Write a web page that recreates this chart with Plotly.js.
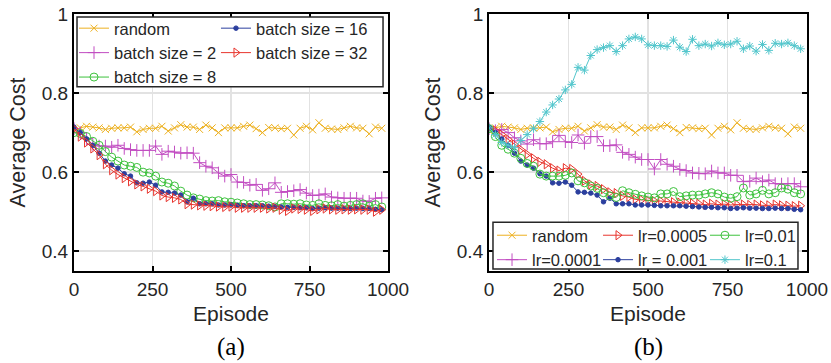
<!DOCTYPE html>
<html><head><meta charset="utf-8">
<script src="https://cdn.plot.ly/plotly-3.0.1.min.js"></script>
<style>body{margin:0;background:#fff;} #chart{width:831px;height:363px;}</style>
</head><body><div id="chart"></div>
<script>
const episodes = [0,20,40,60,80,100,120,140,160,180,200,220,240,260,280,300,320,340,360,380,
  400,420,440,460,480,500,520,540,560,580,600,620,640,660,680,700,720,740,760,780,
  800,820,840,860,880,900,920,940,960,980];

const randomCost = [0.705,0.712,0.716,0.714,0.712,0.708,0.711,0.712,0.712,0.714,
  0.702,0.708,0.711,0.711,0.716,0.704,0.712,0.72,0.714,0.714,
  0.708,0.719,0.712,0.70,0.712,0.712,0.712,0.716,0.719,0.71,
  0.70,0.713,0.712,0.71,0.711,0.694,0.711,0.716,0.707,0.725,
  0.711,0.709,0.708,0.712,0.716,0.712,0.711,0.697,0.714,0.711];

const batch2 = [0.71,0.70,0.685,0.67,0.666,0.666,0.663,0.668,0.66,0.657,
  0.655,0.655,0.655,0.666,0.645,0.653,0.651,0.648,0.649,0.648,
  0.624,0.615,0.611,0.598,0.59,0.594,0.575,0.574,0.567,0.569,
  0.554,0.558,0.573,0.549,0.551,0.553,0.556,0.547,0.541,0.542,
  0.545,0.537,0.535,0.534,0.534,0.534,0.527,0.526,0.534,0.535];

const batch8 = [0.70,0.698,0.69,0.678,0.668,0.652,0.638,0.628,0.618,0.615,
  0.612,0.60,0.598,0.59,0.575,0.572,0.565,0.552,0.542,0.535,
  0.532,0.528,0.527,0.528,0.525,0.524,0.522,0.52,0.518,0.518,
  0.517,0.515,0.512,0.52,0.52,0.519,0.52,0.517,0.516,0.52,
  0.516,0.515,0.518,0.514,0.516,0.518,0.52,0.514,0.518,0.512];

const batch16 = [0.714,0.70,0.684,0.668,0.648,0.628,0.618,0.61,0.596,0.59,
  0.573,0.572,0.575,0.567,0.55,0.549,0.547,0.542,0.525,0.534,
  0.52,0.52,0.52,0.517,0.517,0.517,0.516,0.515,0.515,0.515,
  0.515,0.514,0.513,0.512,0.511,0.511,0.51,0.51,0.508,0.509,
  0.51,0.509,0.509,0.508,0.508,0.509,0.508,0.508,0.506,0.505];

const batch32 = [0.71,0.69,0.675,0.66,0.643,0.62,0.605,0.594,0.585,0.577,
  0.569,0.564,0.558,0.552,0.541,0.537,0.535,0.531,0.519,0.518,
  0.516,0.515,0.514,0.513,0.512,0.513,0.51,0.51,0.51,0.51,
  0.51,0.508,0.51,0.505,0.502,0.508,0.507,0.505,0.502,0.506,
  0.508,0.506,0.505,0.506,0.505,0.506,0.505,0.505,0.50,0.505];

const lr0001 = [0.71,0.705,0.708,0.70,0.687,0.679,0.671,0.682,0.672,0.672,
  0.677,0.693,0.677,0.675,0.694,0.673,0.69,0.69,0.667,0.667,
  0.669,0.65,0.645,0.638,0.632,0.632,0.608,0.632,0.62,0.615,
  0.607,0.604,0.598,0.597,0.596,0.603,0.598,0.598,0.592,0.592,
  0.576,0.577,0.585,0.576,0.58,0.571,0.57,0.571,0.571,0.563];

const lr0005 = [0.712,0.705,0.695,0.683,0.67,0.657,0.645,0.635,0.626,0.62,
  0.61,0.604,0.61,0.608,0.595,0.578,0.569,0.565,0.557,0.549,
  0.547,0.54,0.537,0.531,0.53,0.528,0.527,0.527,0.525,0.524,
  0.523,0.522,0.521,0.52,0.518,0.52,0.518,0.519,0.517,0.518,
  0.518,0.517,0.518,0.516,0.516,0.518,0.516,0.515,0.514,0.515];

const lr001 = [0.714,0.70,0.684,0.668,0.648,0.628,0.618,0.61,0.596,0.59,
  0.573,0.572,0.575,0.567,0.55,0.549,0.547,0.542,0.525,0.534,
  0.52,0.52,0.52,0.517,0.517,0.517,0.516,0.515,0.515,0.515,
  0.515,0.514,0.513,0.512,0.511,0.511,0.51,0.51,0.508,0.509,
  0.51,0.509,0.509,0.508,0.508,0.509,0.508,0.508,0.506,0.505];

const lr01 = [0.71,0.69,0.668,0.658,0.648,0.635,0.622,0.615,0.595,0.59,
  0.59,0.59,0.592,0.598,0.578,0.573,0.565,0.559,0.548,0.54,
  0.536,0.553,0.548,0.544,0.54,0.537,0.535,0.545,0.545,0.551,
  0.538,0.54,0.542,0.542,0.545,0.548,0.545,0.537,0.534,0.538,
  0.56,0.542,0.545,0.554,0.545,0.548,0.56,0.557,0.548,0.545];

const lr1 = [0.712,0.695,0.675,0.668,0.662,0.68,0.695,0.71,0.728,0.752,
  0.77,0.785,0.808,0.822,0.865,0.858,0.895,0.91,0.915,0.92,
  0.905,0.92,0.937,0.942,0.937,0.922,0.92,0.92,0.918,0.934,
  0.916,0.905,0.936,0.92,0.924,0.919,0.927,0.922,0.924,0.931,
  0.912,0.919,0.906,0.923,0.908,0.926,0.924,0.927,0.92,0.912];

const xTicks = [0,250,500,750,1000];
const yTicks = [0.4,0.6,0.8,1];
const yTickText = ['0.4','0.6','0.8','1'];

const C = {orange:'#EDB120', magenta:'#C24DC2', green:'#3DC23D', blue:'#2B3F9E', red:'#E8352E', cyan:'#52C6CC'};
const M = {
  x:{symbol:'x-thin-open', size:7},
  plus:{symbol:'cross-thin-open', size:9},
  o:{symbol:'circle-open', size:8},
  dot:{symbol:'circle', size:4.5},
  tri:{symbol:'triangle-right-open', size:8},
  star:{symbol:'asterisk-open', size:7}
};

function tr(name, y, sub, color, mk, leg){
  return {x: episodes, y: y, name: name, type:'scatter', mode:'lines+markers',
    xaxis: sub===1?'x':'x2', yaxis: sub===1?'y':'y2', legend: leg,
    line:{color:color, width:1},
    marker:{symbol:mk.symbol, size:mk.size, color:color, line:{color:color, width:1}}};
}

const data = [
  tr('random', randomCost, 1, C.orange, M.x, 'legend'),
  tr('batch size = 2', batch2, 1, C.magenta, M.plus, 'legend'),
  tr('batch size = 8', batch8, 1, C.green, M.o, 'legend'),
  tr('batch size = 16', batch16, 1, C.blue, M.dot, 'legend2'),
  tr('batch size = 32', batch32, 1, C.red, M.tri, 'legend2'),
  tr('random', randomCost, 2, C.orange, M.x, 'legend3'),
  tr('lr=0.0001', lr0001, 2, C.magenta, M.plus, 'legend3'),
  tr('lr=0.0005', lr0005, 2, C.red, M.tri, 'legend4'),
  tr('lr = 0.001', lr001, 2, C.blue, M.dot, 'legend4'),
  tr('lr=0.01', lr01, 2, C.green, M.o, 'legend5'),
  tr('lr=0.1', lr1, 2, C.cyan, M.star, 'legend5')
];

const FONT = 'Liberation Sans, Arial, sans-serif';
function ax(extra){
  return Object.assign({
    showline:true, mirror:'ticks', linecolor:'#000', linewidth:2,
    ticks:'inside', ticklen:5, tickwidth:2, tickcolor:'#000',
    showgrid:true, gridcolor:'#e2e2e2', gridwidth:1.5, zeroline:false,
    tickfont:{family:FONT, size:19, color:'#262626'}
  }, extra);
}
const xt = {text:'Episode', font:{family:FONT, size:21, color:'#262626'}, standoff:8};
const yt = {text:'Average Cost', font:{family:FONT, size:21.5, color:'#262626'}, standoff:10};

function leg(x, y){
  return {x:x, y:y, xanchor:'left', yanchor:'top', orientation:'v', itemwidth:30,
    bgcolor:'rgba(0,0,0,0)', borderwidth:0, tracegroupgap:0,
    font:{family:FONT, size:16.5, color:'#262626'}};
}

const layout = {
  width:831, height:363,
  margin:{l:74, r:24, t:13, b:92},
  paper_bgcolor:'#fff', plot_bgcolor:'#fff',
  showlegend:true,
  xaxis: ax({domain:[0,0.4284], range:[0,1000], tickvals:xTicks, anchor:'y', title:xt}),
  yaxis: ax({domain:[0,1], range:[0.35,1], tickvals:yTicks, ticktext:yTickText, anchor:'x', title:yt}),
  xaxis2: ax({domain:[0.5662,1], range:[0,1000], tickvals:xTicks, anchor:'y2', title:xt}),
  yaxis2: ax({domain:[0,1], range:[0.35,1], tickvals:yTicks, ticktext:yTickText, anchor:'x2', title:yt}),
  legend: leg(0.0, 1.008),
  legend2: leg(0.1937, 1.008),
  legend3: leg(0.5703, 0.2054),
  legend4: leg(0.7149, 0.2054),
  legend5: leg(0.8608, 0.2054),
  shapes:[
    {type:'rect', xref:'paper', yref:'paper', x0:0.0041, x1:0.4216, y0:0.717, y1:0.988,
     fillcolor:'#fff', line:{color:'#262626', width:1.5}, layer:'above'},
    {type:'rect', xref:'paper', yref:'paper', x0:0.5716, x1:0.9877, y0:0.0078, y1:0.19,
     fillcolor:'#fff', line:{color:'#262626', width:1.5}, layer:'above'}
  ],
  annotations:[
    {text:'(a)', xref:'paper', yref:'paper', x:0.2142, y:-0.2946, xanchor:'center', yanchor:'middle',
     showarrow:false, font:{family:'Liberation Serif, Times New Roman, serif', size:25, color:'#000'}},
    {text:'(b)', xref:'paper', yref:'paper', x:0.7831, y:-0.2946, xanchor:'center', yanchor:'middle',
     showarrow:false, font:{family:'Liberation Serif, Times New Roman, serif', size:25, color:'#000'}}
  ]
};

Plotly.newPlot('chart', data, layout, {displayModeBar:false, staticPlot:true});
</script>
</body></html>
